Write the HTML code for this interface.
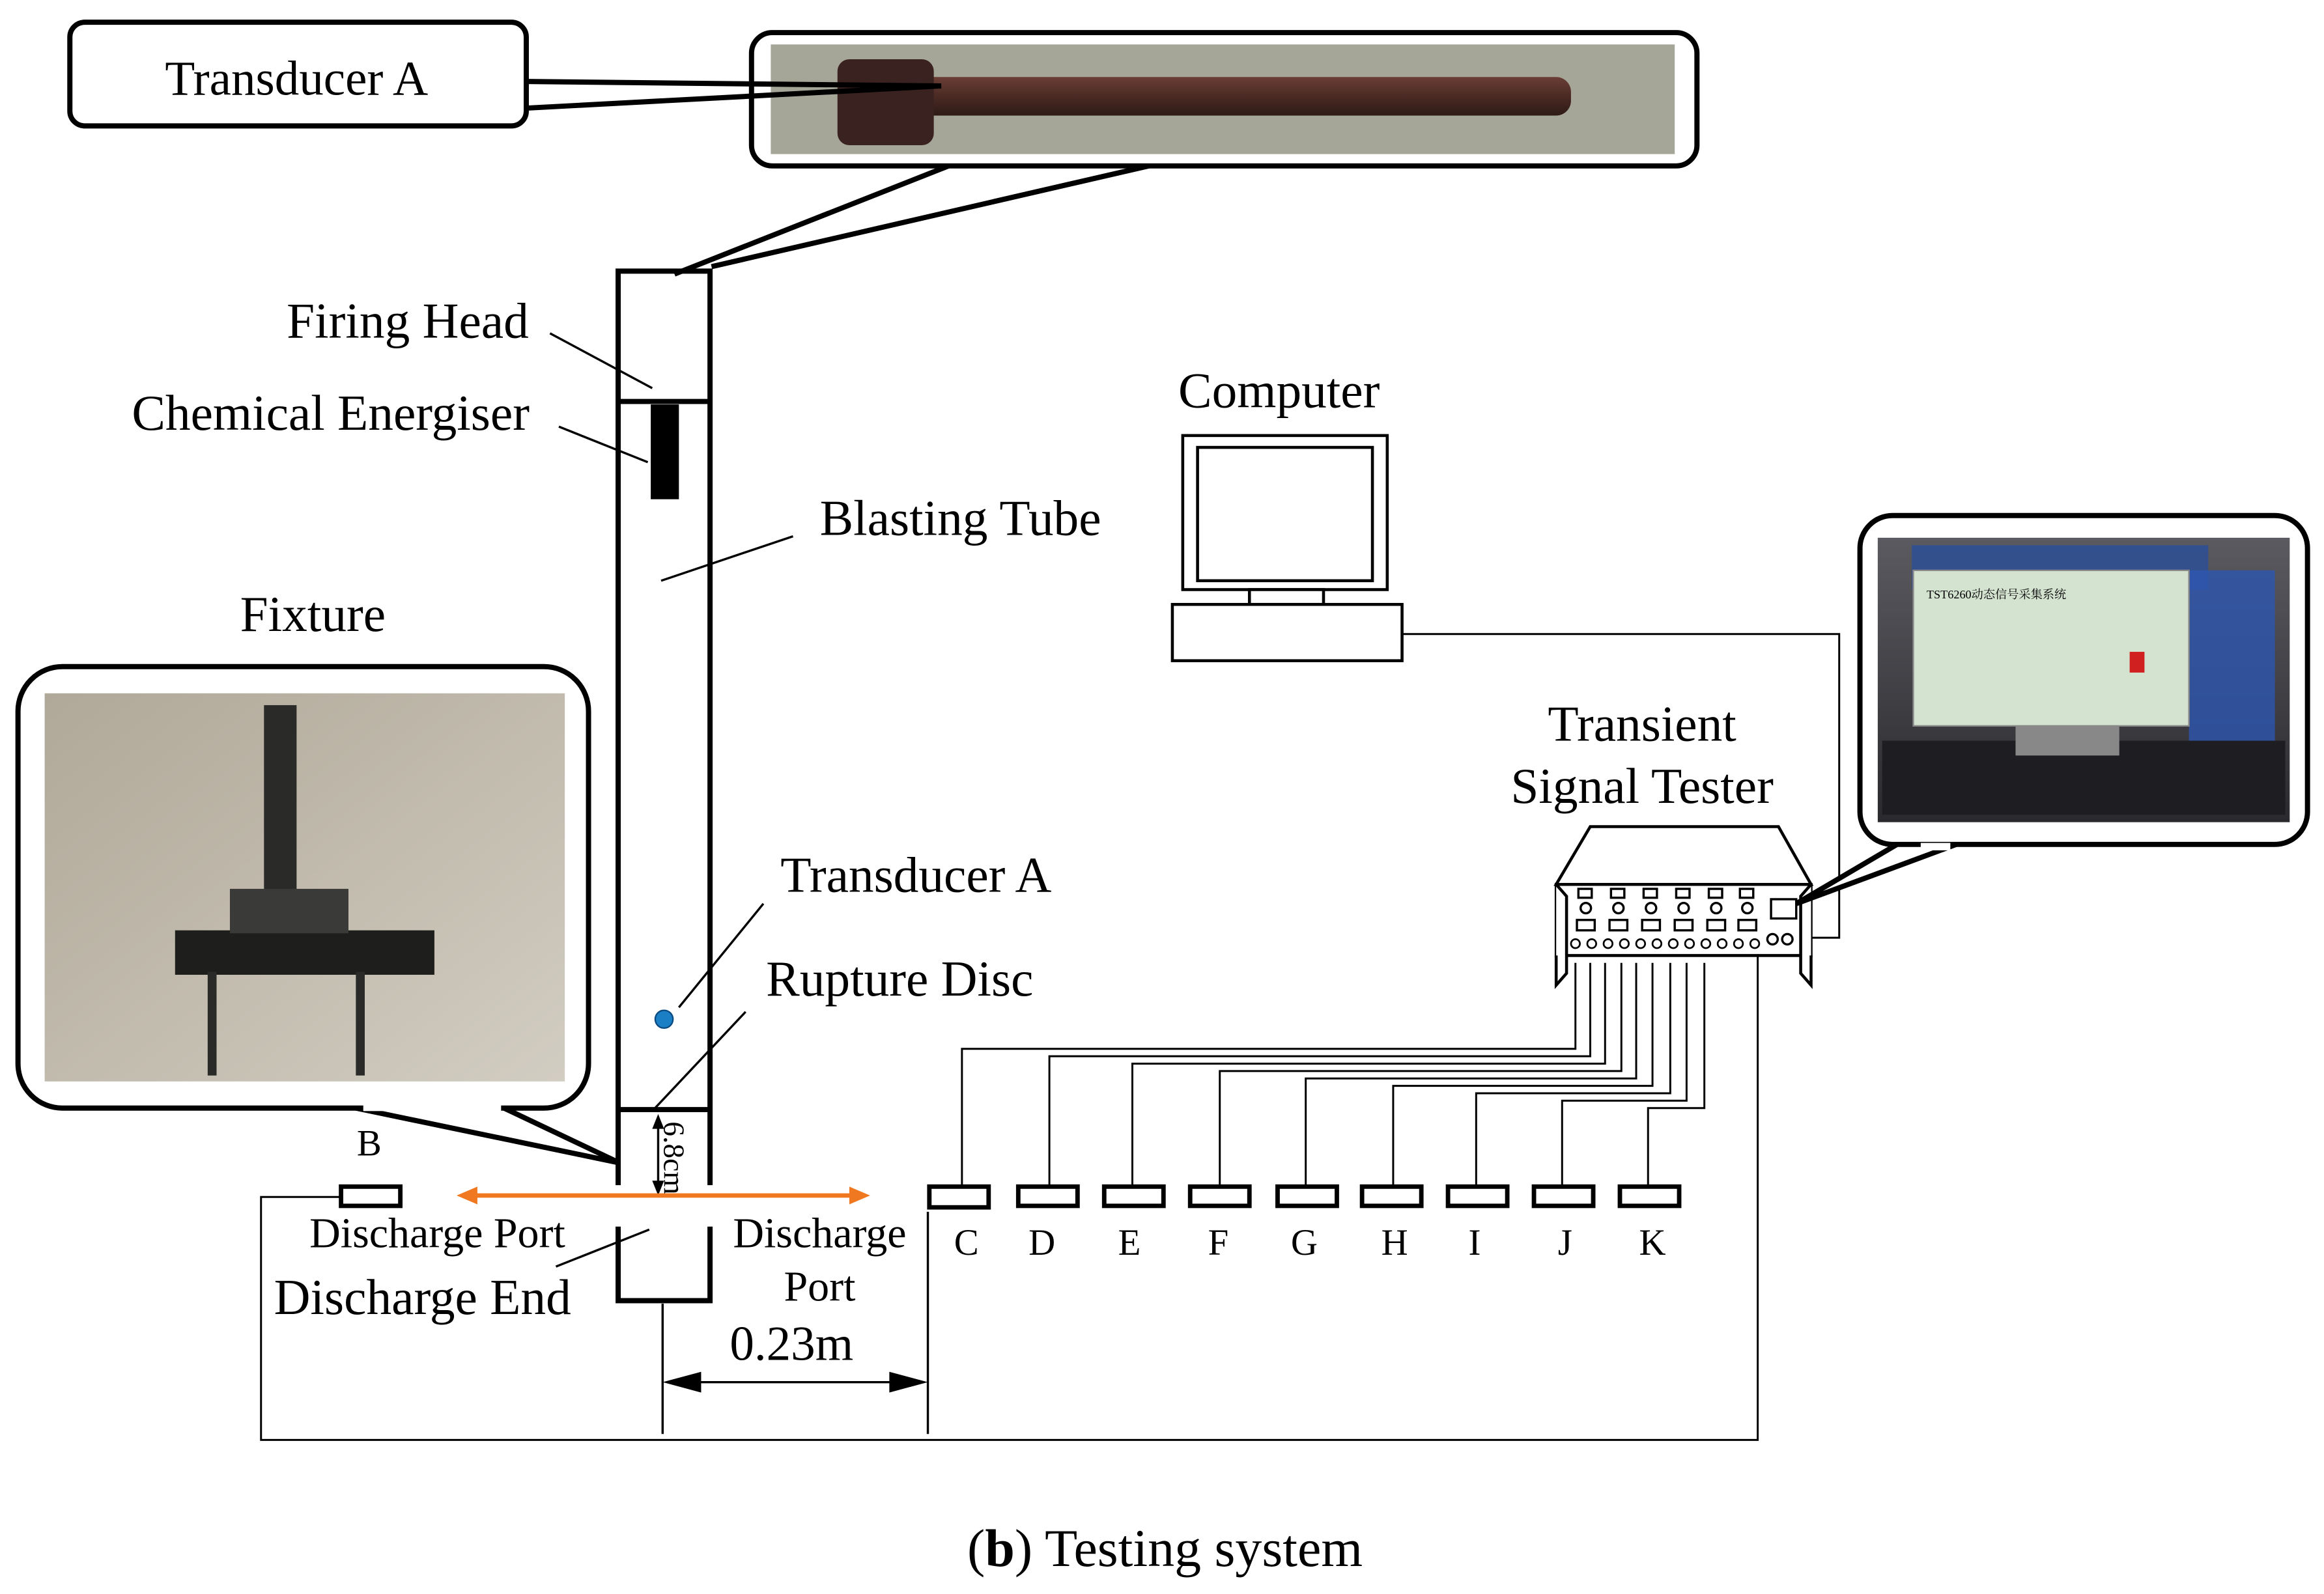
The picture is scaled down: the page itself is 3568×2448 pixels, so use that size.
<!DOCTYPE html>
<html><head><meta charset="utf-8"><style>
html,body{margin:0;padding:0;background:#fff;}
svg{display:block;}
text{font-family:"Liberation Serif",serif;fill:#000;}
</style></head><body>
<svg width="3568" height="2448" viewBox="0 0 1568 1076" xmlns="http://www.w3.org/2000/svg">
<defs>
<linearGradient id="rod" x1="0" y1="0" x2="0" y2="1"><stop offset="0" stop-color="#6a3e34"/><stop offset="0.5" stop-color="#4a2a24"/><stop offset="1" stop-color="#2e1a16"/></linearGradient>
<linearGradient id="floor" x1="0" y1="0" x2="1" y2="1"><stop offset="0" stop-color="#b0a898"/><stop offset="1" stop-color="#d2cdc2"/></linearGradient>
<linearGradient id="case" x1="0" y1="0" x2="0" y2="1"><stop offset="0" stop-color="#5a5a60"/><stop offset="1" stop-color="#2a2a2e"/></linearGradient>
</defs>
<rect width="1568" height="1076" fill="#fff"/>
<!-- rod photo -->
<rect x="507" y="22" width="638" height="90" rx="14" fill="#fff" stroke="#000" stroke-width="3.5"/>
<rect x="520" y="30" width="610" height="74" fill="#a6a698"/>
<rect x="600" y="52" width="460" height="26" rx="10" fill="url(#rod)"/>
<rect x="565" y="40" width="65" height="58" rx="8" fill="#3a2220"/>
<polyline points="640,112 455,185" fill="none" stroke="#000" stroke-width="3.5"/>
<polyline points="775,112 480,180" fill="none" stroke="#000" stroke-width="3.5"/>
<!-- Transducer A callout -->
<rect x="47" y="15" width="308" height="70" rx="10" fill="#fff" stroke="#000" stroke-width="3.5"/>
<polyline points="355,55 635,58 355,73" fill="none" stroke="#000" stroke-width="3.5"/>
<text x="200" y="64" font-size="33" text-anchor="middle">Transducer A</text>
<!-- tube -->
<g stroke="#000" stroke-width="3.5" fill="none">
<polyline points="417,800 417,183 479,183 479,800"/>
<line x1="417" y1="271" x2="479" y2="271"/>
<line x1="417" y1="749" x2="479" y2="749"/>
<polyline points="417,828 417,878 479,878 479,828"/>
</g>
<rect x="439" y="273" width="19" height="64" fill="#000"/>
<circle cx="448" cy="688" r="6" fill="#1a7fc4" stroke="#0a4a80" stroke-width="1"/>
<g stroke="#000" stroke-width="1.5">
<line x1="371" y1="225" x2="440" y2="262"/>
<line x1="377" y1="288" x2="437" y2="312"/>
<line x1="535" y1="362" x2="446" y2="392"/>
<line x1="515" y1="610" x2="458" y2="680"/>
<line x1="503" y1="683" x2="440" y2="750"/>
<line x1="375" y1="855" x2="438" y2="830"/>
</g>
<text x="275" y="228" font-size="34" text-anchor="middle">Firing Head</text>
<text x="223" y="290" font-size="34" text-anchor="middle">Chemical Energiser</text>
<text x="648" y="361" font-size="34" text-anchor="middle">Blasting Tube</text>
<text x="618" y="602" font-size="34" text-anchor="middle">Transducer A</text>
<text x="607" y="672" font-size="34" text-anchor="middle">Rupture Disc</text>
<text x="211" y="426" font-size="34" text-anchor="middle">Fixture</text>
<!-- 6.8cm -->
<line x1="444" y1="754" x2="444" y2="805" stroke="#000" stroke-width="1.5"/>
<polygon points="444,752 440,762 448,762" fill="#000"/>
<polygon points="444,807 440,797 448,797" fill="#000"/>
<text x="448" y="757" font-size="20" transform="rotate(90 448 757)">6.8cm</text>
<!-- orange arrow -->
<line x1="318" y1="807" x2="577" y2="807" stroke="#f07820" stroke-width="3"/>
<polygon points="308,807 322,801 322,813" fill="#f07820"/>
<polygon points="587,807 573,801 573,813" fill="#f07820"/>
<text x="295" y="842" font-size="29" text-anchor="middle">Discharge Port</text>
<text x="285" y="887" font-size="34" text-anchor="middle">Discharge End</text>
<text x="553" y="842" font-size="29" text-anchor="middle">Discharge</text>
<text x="553" y="878" font-size="29" text-anchor="middle">Port</text>
<text x="534" y="918" font-size="33" text-anchor="middle">0.23m</text>
<!-- 0.23m dimension -->
<g stroke="#000" stroke-width="1.5">
<line x1="447" y1="880" x2="447" y2="968"/>
<line x1="626" y1="818" x2="626" y2="968"/>
<line x1="460" y1="933" x2="613" y2="933"/>
</g>
<polygon points="447,933 473,926 473,940" fill="#000"/>
<polygon points="626,933 600,926 600,940" fill="#000"/>
<!-- bottom loop -->
<polyline points="230,808 176,808 176,972 1186,972 1186,640" fill="none" stroke="#000" stroke-width="1.3"/>
<rect x="230" y="801" width="40" height="13" fill="#fff" stroke="#000" stroke-width="3"/>
<text x="249" y="780" font-size="25" text-anchor="middle">B</text>
<!-- sensors -->
<g stroke="#000" stroke-width="1.3" fill="none">
<polyline points="649,801 649,708 1063,708 1063,650"/>
<polyline points="708,801 708,713 1073,713 1073,650"/>
<polyline points="764,801 764,718 1083,718 1083,650"/>
<polyline points="823,801 823,723 1094,723 1094,650"/>
<polyline points="881,801 881,728 1104,728 1104,650"/>
<polyline points="940,801 940,733 1115,733 1115,650"/>
<polyline points="996,801 996,738 1127,738 1127,650"/>
<polyline points="1054,801 1054,743 1138,743 1138,650"/>
<polyline points="1112,801 1112,748 1150,748 1150,650"/>
</g>
<g fill="#fff" stroke="#000" stroke-width="3">
<rect x="627" y="801" width="40" height="14"/>
<rect x="687" y="801" width="40" height="13"/>
<rect x="745" y="801" width="40" height="13"/>
<rect x="803" y="801" width="40" height="13"/>
<rect x="862" y="801" width="40" height="13"/>
<rect x="919" y="801" width="40" height="13"/>
<rect x="977" y="801" width="40" height="13"/>
<rect x="1035" y="801" width="40" height="13"/>
<rect x="1093" y="801" width="40" height="13"/>
</g>
<g font-size="25" text-anchor="middle">
<text x="652" y="847">C</text><text x="703" y="847">D</text><text x="762" y="847">E</text>
<text x="822" y="847">F</text><text x="880" y="847">G</text><text x="941" y="847">H</text>
<text x="995" y="847">I</text><text x="1056" y="847">J</text><text x="1115" y="847">K</text>
</g>
<!-- computer -->
<g stroke="#000" stroke-width="2" fill="#fff">
<rect x="798" y="294" width="138" height="104"/>
<rect x="808" y="302" width="118" height="90"/>
<rect x="843" y="398" width="50" height="10"/>
<rect x="791" y="408" width="155" height="38"/>
</g>
<polyline points="946,428 1241,428 1241,633 1222,633" fill="none" stroke="#000" stroke-width="1.3"/>
<text x="863" y="275" font-size="34" text-anchor="middle">Computer</text>
<text x="1108" y="500" font-size="34" text-anchor="middle">Transient</text>
<text x="1108" y="542" font-size="34" text-anchor="middle">Signal Tester</text>
<!-- tester -->
<g stroke="#000" stroke-width="2" fill="#fff">
<polygon points="1073,558 1200,558 1222,597 1050,597"/>
<rect x="1050" y="597" width="172" height="48"/>
<polyline points="1050,597 1057,605 1057,657 1050,665 1050,645" />
<polyline points="1222,597 1215,605 1215,657 1222,665 1222,645"/>
</g>
<g stroke="#000" stroke-width="1.5" fill="#fff">
<rect x="1065" y="600" width="9" height="6"/><rect x="1087" y="600" width="9" height="6"/><rect x="1109" y="600" width="9" height="6"/><rect x="1131" y="600" width="9" height="6"/><rect x="1153" y="600" width="9" height="6"/><rect x="1174" y="600" width="9" height="6"/>
<circle cx="1070" cy="613" r="3.5"/><circle cx="1092" cy="613" r="3.5"/><circle cx="1114" cy="613" r="3.5"/><circle cx="1136" cy="613" r="3.5"/><circle cx="1158" cy="613" r="3.5"/><circle cx="1179" cy="613" r="3.5"/>
<rect x="1064" y="621" width="12" height="7"/><rect x="1086" y="621" width="12" height="7"/><rect x="1108" y="621" width="12" height="7"/><rect x="1130" y="621" width="12" height="7"/><rect x="1152" y="621" width="12" height="7"/><rect x="1173" y="621" width="12" height="7"/>
<rect x="1195" y="607" width="17" height="13"/>
<circle cx="1196" cy="634" r="3.5"/><circle cx="1206" cy="634" r="3.5"/>
</g>
<g fill="#fff" stroke="#000" stroke-width="1.2">
<circle cx="1063" cy="637" r="3"/><circle cx="1074" cy="637" r="3"/><circle cx="1085" cy="637" r="3"/><circle cx="1096" cy="637" r="3"/><circle cx="1107" cy="637" r="3"/><circle cx="1118" cy="637" r="3"/><circle cx="1129" cy="637" r="3"/><circle cx="1140" cy="637" r="3"/><circle cx="1151" cy="637" r="3"/><circle cx="1162" cy="637" r="3"/><circle cx="1173" cy="637" r="3"/><circle cx="1184" cy="637" r="3"/>
</g>
<!-- tester photo callout -->
<path d="M1280,570 L1212,610 L1320,570" fill="#fff" stroke="#000" stroke-width="3.5"/>
<rect x="1255" y="348" width="302" height="222" rx="22" fill="#fff" stroke="#000" stroke-width="3.5"/>
<rect x="1296" y="569" width="20" height="5" fill="#fff"/>
<rect x="1267" y="363" width="278" height="192" fill="url(#case)"/>
<rect x="1290" y="368" width="200" height="30" fill="#2a4f9a" opacity="0.8"/>
<rect x="1477" y="385" width="58" height="120" fill="#2d56b0" opacity="0.8"/>
<rect x="1291" y="385" width="186" height="105" fill="#d4e2d0" stroke="#888" stroke-width="1"/>
<rect x="1270" y="500" width="272" height="50" fill="#1e1e22"/>
<rect x="1360" y="490" width="70" height="20" fill="#888"/>
<rect x="1437" y="440" width="10" height="14" fill="#d02020"/>
<text x="1300" y="404" font-size="8" style="font-family:'Liberation Serif','Noto Serif CJK SC',serif">TST6260动态信号采集系统</text>
<!-- fixture callout -->
<path d="M340,748 L418,785 L240,748" fill="#fff" stroke="#000" stroke-width="3.5"/>
<rect x="12" y="450" width="385" height="298" rx="30" fill="#fff" stroke="#000" stroke-width="3.5"/>
<rect x="245" y="744" width="93" height="6" fill="#fff"/>
<rect x="30" y="468" width="351" height="262" fill="url(#floor)"/>
<rect x="178" y="476" width="22" height="150" fill="#2a2a28"/>
<rect x="118" y="628" width="175" height="30" fill="#1e1e1c"/>
<rect x="155" y="600" width="80" height="30" fill="#3a3a38"/>
<rect x="140" y="656" width="6" height="70" fill="#2a2a28"/>
<rect x="240" y="656" width="6" height="70" fill="#2a2a28"/>
<text x="786" y="1057" font-size="36" text-anchor="middle">(<tspan font-weight="bold">b</tspan>) Testing system</text>
</svg>
</body></html>
